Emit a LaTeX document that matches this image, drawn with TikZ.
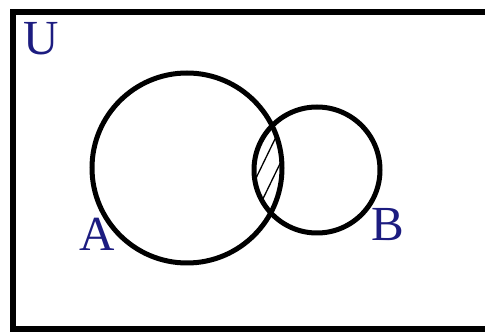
\documentclass[tikz,border=0pt]{standalone}
\usepackage{fontspec}
\setmainfont{Liberation Serif}
\definecolor{setblue}{RGB}{28,28,128}
\begin{document}
\begin{tikzpicture}[x=1pt,y=1pt,
    setlabel/.style={text=setblue,inner sep=0pt,font=\fontsize{49}{49}\selectfont}]
            \def\ra{95}
            \def\rb{63}
            \useasboundingbox (0,0) rectangle (485,332);

            \draw[line width=6pt] (12.5,2.5) rectangle (487.5,319.5);

            % shaded part A and B
            \begin{scope}
                \clip (187,164) circle (\ra);
                \clip (317,162) circle (\rb);
                \foreach \s in {-34,-17,0,17,34}
                    \draw[line width=1.3pt] (261.4+\s-60,165-123.6) -- (261.4+\s+60,165+123.6);
            \end{scope}

            \draw[line width=5pt] (187,164) circle (\ra);
            \draw[line width=5pt] (317,162) circle (\rb);

            \node[setlabel] (U) at (41.5,293.5) {U};
            \node[setlabel] (A) at (97.5,97.5) {A};
            \node[setlabel] (B) at (387.5,107) {B};
        \end{tikzpicture}
\end{document}
